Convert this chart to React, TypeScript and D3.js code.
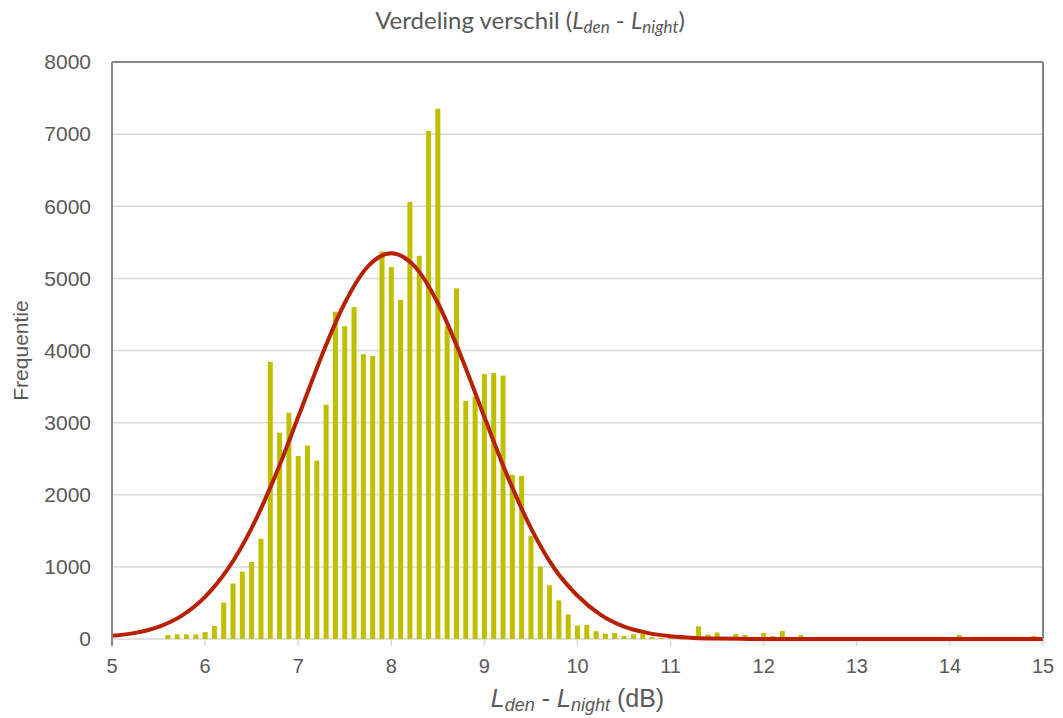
import React from "react";
import * as d3 from "d3";

// Histogram bins: counts for bin centres 5.0, 5.1, ... 15.0 (dB)
const binStart = 5.0;
const binStep = 0.1;
const counts: number[] = [
  0, 0, 0, 0, 0, 0, // 5.0 - 5.5
  55, 64, 64, 64, // 5.6 - 5.9
  96, 180, 504, 770, 934, 1067, 1391, 3843, 2861, 3137, // 6.0 - 6.9
  2537, 2680, 2473, 3248, 4538, 4337, 4602, 3949, 3923, 5372, // 7.0 - 7.9
  5159, 4703, 6062, 5313, 7044, 7351, 4337, 4862, 3301, 3360, // 8.0 - 8.9
  3673, 3689, 3652, 2277, 2261, 1428, 1003, 745, 536, 341, // 9.0 - 9.9
  186, 197, 108, 74, 83, 42, 65, 69, 25, 15, // 10.0 - 10.9
  10, 10, 5, 175, 62, 90, 20, 69, 56, 10, // 11.0 - 11.9
  83, 42, 111, 10, 56, 0, 0, 0, 0, 0, // 12.0 - 12.9
  0, 0, 0, 0, 0, 0, 0, 0, 0, 0, // 13.0 - 13.9
  0, 56, 0, 0, 0, 0, 0, 0, 0, 42, // 14.0 - 14.9
  0, // 15.0
];

// Fitted normal curve
const curveX: number[] = [5, 5.25, 5.5, 5.75, 6, 6.25, 6.5, 6.75, 7, 7.25, 7.5, 7.75, 8, 8.25, 8.5, 8.75, 9, 9.25, 9.5, 9.75, 10, 10.25, 10.5, 10.75, 11, 11.25, 11.5, 11.75, 12, 13, 14, 15];
const curveY: number[] = [45, 85, 168, 324, 584, 981, 1538, 2251, 3077, 3918, 4658, 5168, 5350, 5168, 4658, 3918, 3077, 2251, 1538, 981, 600, 335, 172, 85, 38, 15, 6, 2, 0, 0, 0, 0];

const xTicks: number[] = [5, 6, 7, 8, 9, 10, 11, 12, 13, 14, 15];
const yTicks: number[] = [0, 1000, 2000, 3000, 4000, 5000, 6000, 7000, 8000];

const W = 1063;
const H = 718;
const left = 112;
const right = 1043;
const top = 62;
const bottom = 639;

export default function App() {
  const x = d3.scaleLinear().domain([5, 15]).range([left, right]);
  const y = d3.scaleLinear().domain([0, 8000]).range([bottom, top]);
  const barW = 5;

  const bins = counts.map((c, i) => ({ x: +(binStart + i * binStep).toFixed(1), c }));
  const pts = curveX.map((cx, i) => [cx, curveY[i]] as [number, number]);
  const line = d3
    .line<[number, number]>()
    .x((d) => x(d[0]))
    .y((d) => y(d[1]))
    .curve(d3.curveMonotoneX);

  const labelColor = "#595959";
  const sans = "'Liberation Sans', Arial, sans-serif";

  return (
    <svg
      width={W}
      height={H}
      style={{ position: "absolute", left: 0, top: 0, background: "#fff" }}
    >
      {/* gridlines */}
      {yTicks.slice(0, -1).map((t) => (
        <line key={"g" + t} x1={left} x2={right} y1={y(t)} y2={y(t)} stroke="#d9d9d9" strokeWidth={1.5} />
      ))}
      {/* x ticks */}
      {xTicks.map((t) => (
        <line key={"xt" + t} x1={x(t)} x2={x(t)} y1={bottom} y2={bottom + 7} stroke="#d9d9d9" strokeWidth={1.5} />
      ))}
      {/* bars */}
      {bins
        .filter((b) => b.c > 0)
        .map((b) => (
          <rect
            key={"b" + b.x}
            x={x(b.x) - barW / 2}
            y={y(b.c)}
            width={barW}
            height={bottom - y(b.c)}
            fill="#bfbf00"
          />
        ))}
      {/* fitted curve */}
      <path d={line(pts) || ""} fill="none" stroke="#b82100" strokeWidth={4} strokeLinejoin="round" />
      {/* plot border */}
      <line x1={left} x2={left} y1={top} y2={bottom + 7} stroke="#868686" strokeWidth={2} />
      <line x1={left} x2={right} y1={top} y2={top} stroke="#868686" strokeWidth={2} />
      <line x1={right} x2={right} y1={top} y2={bottom} stroke="#868686" strokeWidth={2} />

      {/* y tick labels */}
      {yTicks.map((t) => (
        <text
          key={"yl" + t}
          x={91}
          y={y(t)}
          dy="0.35em"
          textAnchor="end"
          fontFamily={sans}
          fontSize={21}
          fill={labelColor}
        >
          {t}
        </text>
      ))}
      {/* x tick labels */}
      {xTicks.map((t) => (
        <text
          key={"xl" + t}
          x={x(t)}
          y={673}
          textAnchor="middle"
          fontFamily={sans}
          fontSize={20}
          fill={labelColor}
        >
          {t}
        </text>
      ))}

      {/* y axis title */}
      <text
        transform={`translate(28, ${(top + bottom) / 2}) rotate(-90)`}
        textAnchor="middle"
        fontFamily={sans}
        fontSize={21}
        fill={labelColor}
      >
        Frequentie
      </text>

      {/* x axis title */}
      <text x={(left + right) / 2} y={707} textAnchor="middle" fontFamily={sans} fontSize={25} fill={labelColor}>
        <tspan fontStyle="italic">L</tspan>
        <tspan fontStyle="italic" fontSize={18} dy={4}>den</tspan>
        <tspan dy={-4}> - </tspan>
        <tspan fontStyle="italic">L</tspan>
        <tspan fontStyle="italic" fontSize={18} dy={4}>night</tspan>
        <tspan dy={-4}> (dB)</tspan>
      </text>

      {/* chart title */}
      <text x={530} y={29} textAnchor="middle" fontFamily="Lato, 'Open Sans', sans-serif" fontSize={24} fill={labelColor}>
        Verdeling verschil (
        <tspan fontStyle="italic">L</tspan>
        <tspan fontStyle="italic" fontSize={17} dy={4}>den</tspan>
        <tspan dy={-4}> - </tspan>
        <tspan fontStyle="italic">L</tspan>
        <tspan fontStyle="italic" fontSize={17} dy={4}>night</tspan>
        <tspan dy={-4}>)</tspan>
      </text>
    </svg>
  );
}
